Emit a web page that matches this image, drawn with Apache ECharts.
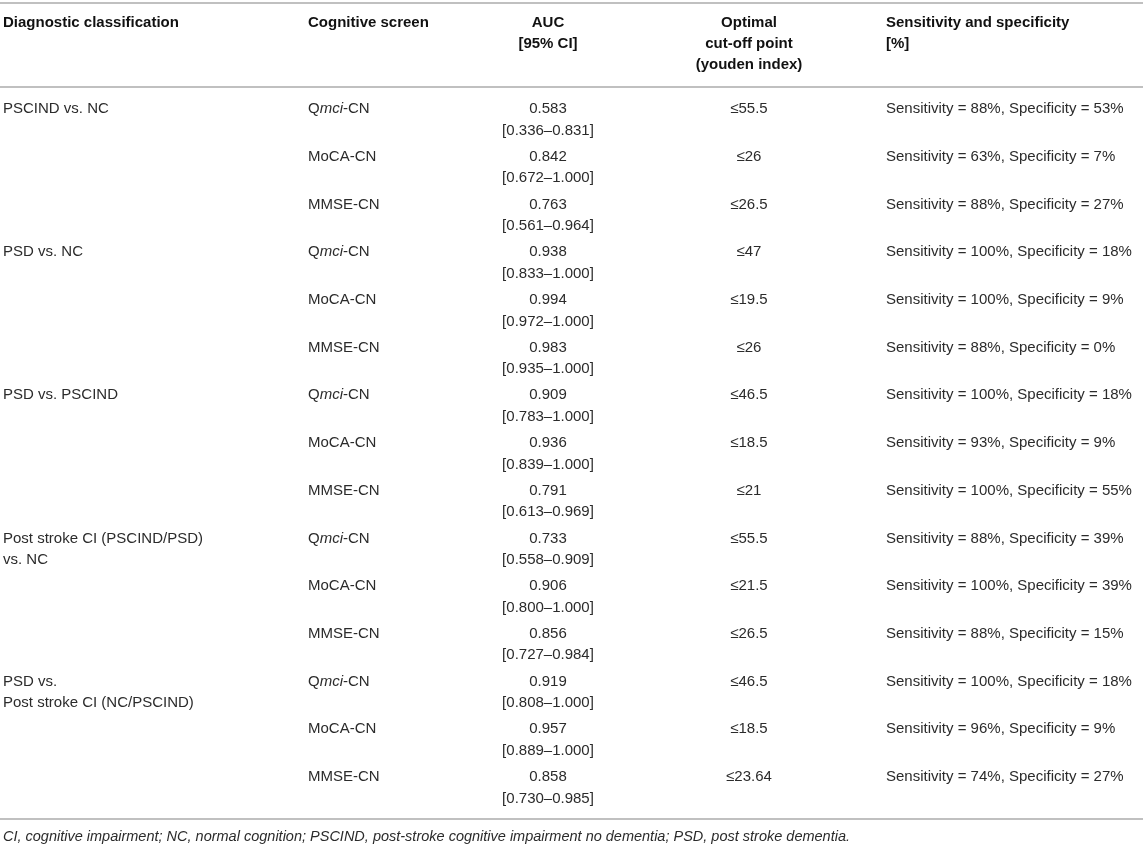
<!DOCTYPE html>
<html>
<head>
<meta charset="utf-8">
<title>Cognitive screens ROC table</title>
<script src="https://cdn.jsdelivr.net/npm/echarts@6/dist/echarts.min.js"></script>
<style>
  html, body { margin: 0; padding: 0; background: #fff; }
  #main { width: 1143px; height: 847px; }
</style>
</head>
<body>
<div id="main"></div>
<script>
const headers = [
  "Diagnostic classification",
  "Cognitive screen",
  "AUC\n[95% CI]",
  "Optimal\ncut-off point\n(youden index)",
  "Sensitivity and specificity\n[%]",
];
const groups = [
  "PSCIND vs. NC",
  "PSD vs. NC",
  "PSD vs. PSCIND",
  "Post stroke CI (PSCIND/PSD)\nvs. NC",
  "PSD vs.\nPost stroke CI (NC/PSCIND)",
];
// "mci" is set in italics in the source table
const screens = ["Q{it|mci}-CN", "MoCA-CN", "MMSE-CN"];
const auc = [0.583, 0.842, 0.763, 0.938, 0.994, 0.983, 0.909, 0.936, 0.791, 0.733, 0.906, 0.856, 0.919, 0.957, 0.858];
const ciLow = [0.336, 0.672, 0.561, 0.833, 0.972, 0.935, 0.783, 0.839, 0.613, 0.558, 0.8, 0.727, 0.808, 0.889, 0.73];
const ciHigh = [0.831, 1.0, 0.964, 1.0, 1.0, 1.0, 1.0, 1.0, 0.969, 0.909, 1.0, 0.984, 1.0, 1.0, 0.985];
const cutoff = [55.5, 26, 26.5, 47, 19.5, 26, 46.5, 18.5, 21, 55.5, 21.5, 26.5, 46.5, 18.5, 23.64];
const sensitivity = [88, 63, 88, 100, 100, 88, 100, 93, 100, 88, 100, 88, 100, 96, 74];
const specificity = [53, 7, 27, 18, 9, 0, 18, 9, 55, 39, 39, 15, 18, 9, 27];
const footnote =
  "CI, cognitive impairment; NC, normal cognition; PSCIND, post-stroke cognitive impairment no dementia; PSD, post stroke dementia.";

// layout
const W = 1143;
const FONT = "'Liberation Sans', Arial, Helvetica, sans-serif";
const colX = [3, 308, 548, 749, 886];
const colAlign = ["left", "left", "center", "center", "left"];
const bodyColor = "#2b2b2b";
const headColor = "#111";
const ruleColor = "#ababab";
const LH = 21.5;

const rows = [];
groups.forEach((g, gi) => {
  screens.forEach((s, si) => rows.push(gi * 3 + si));
});
const rowNames = rows.map((r) => "row" + r);

const italicStyle = {
  font: "italic 15px " + FONT,
  fill: bodyColor,
};

function cellTexts(r) {
  return [
    r % 3 === 0 ? groups[r / 3] : "",
    screens[r % 3],
    auc[r].toFixed(3) + "\n[" + ciLow[r].toFixed(3) + "–" + ciHigh[r].toFixed(3) + "]",
    "≤" + cutoff[r],
    "Sensitivity = " + sensitivity[r] + "%, Specificity = " + specificity[r] + "%",
  ];
}

function renderRow(params, api) {
  const r = api.value(1);
  const cy = api.coord([0, r])[1];
  const top = cy - LH;
  const children = cellTexts(r).map((t, i) => ({
    type: "text",
    style: {
      text: t,
      x: api.coord([colX[i], r])[0],
      y: top,
      align: colAlign[i],
      verticalAlign: "top",
      fontSize: 15,
      fontFamily: FONT,
      lineHeight: LH,
      fill: bodyColor,
      rich: { it: italicStyle },
    },
  }));
  return { type: "group", children };
}

const ruleY = [3, 87, 819];
const graphics = ruleY.map((y) => ({
  type: "line",
  shape: { x1: 0, y1: y, x2: W, y2: y },
  style: { stroke: ruleColor, lineWidth: 1.5 },
  silent: true,
}));
headers.forEach((h, i) => {
  graphics.push({
    type: "text",
    x: colX[i],
    y: 12,
    style: {
      text: h,
      align: colAlign[i],
      verticalAlign: "top",
      fontSize: 15,
      fontWeight: "bold",
      fontFamily: FONT,
      lineHeight: 21.2,
      fill: headColor,
    },
  });
});
graphics.push({
  type: "text",
  x: 3,
  y: 837,
  style: {
    text: footnote,
    align: "left",
    verticalAlign: "middle",
    fontSize: 14.5,
    fontStyle: "italic",
    fontFamily: FONT,
    fill: bodyColor,
  },
});

const chart = echarts.init(document.getElementById("main"));
chart.setOption({
  animation: false,
  grid: { left: 0, right: 0, top: 96, height: 715.5 },
  xAxis: { type: "value", min: 0, max: W, show: false },
  yAxis: { type: "category", data: rowNames, inverse: true, show: false },
  graphic: graphics,
  series: [
    {
      type: "custom",
      renderItem: renderRow,
      encode: { x: 0, y: 1 },
      data: rows.map((r) => [0, r]),
      silent: true,
    },
  ],
});
</script>
</body>
</html>
